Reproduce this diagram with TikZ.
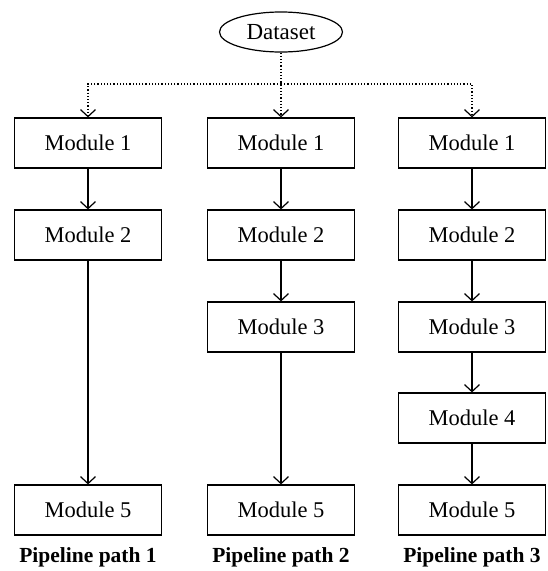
\documentclass[tikz,border=0pt]{standalone}
\usepackage{fontspec}
\setmainfont{Liberation Serif}
\usetikzlibrary{arrows.meta,shapes.geometric}
\begin{document}
\begin{tikzpicture}[x=1pt,y=1pt,
  modbox/.style={draw,line width=1.2pt,minimum width=147pt,minimum height=50pt,inner sep=0pt,font=\fontsize{22.5}{24}\selectfont},
  pathlabel/.style={font=\bfseries\fontsize{21.5}{24}\selectfont,inner sep=0pt},
  flow/.style={line width=1.2pt,-{Straight Barb[length=7pt,width=15pt,line width=1.2pt]}},
  dflow/.style={line width=1.2pt,dotted,-{Straight Barb[length=7pt,width=15pt,line width=1.2pt]}}]
\useasboundingbox (0,0) rectangle (547,-571);
\node[draw,ellipse,line width=1.2pt,minimum width=123pt,minimum height=40pt,inner sep=0pt,font=\fontsize{23}{24}\selectfont] (ds) at (281,-32) {Dataset};
\coordinate (j) at (281,-84);
% column 1
\node[modbox] (a1) at (88,-143) {Module 1};
\node[modbox] (a2) at (88,-235) {Module 2};
\node[modbox] (a5) at (88,-510) {Module 5};
% column 2
\node[modbox] (b1) at (281,-143) {Module 1};
\node[modbox] (b2) at (281,-235) {Module 2};
\node[modbox] (b3) at (281,-327) {Module 3};
\node[modbox] (b5) at (281,-510) {Module 5};
% column 3
\node[modbox] (c1) at (472,-143) {Module 1};
\node[modbox] (c2) at (472,-235) {Module 2};
\node[modbox] (c3) at (472,-327) {Module 3};
\node[modbox] (c4) at (472,-418) {Module 4};
\node[modbox] (c5) at (472,-510) {Module 5};
% labels
\node[pathlabel] (l1) at (88,-557) {Pipeline path 1};
\node[pathlabel] (l2) at (281,-557) {Pipeline path 2};
\node[pathlabel] (l3) at (472,-557) {Pipeline path 3};
% dotted
\draw[dflow] (ds.south) -- (b1.north);
\draw[dflow] (j) -| (a1.north);
\draw[dflow] (j) -| (c1.north);
% solid
\draw[flow] (a1) -- (a2);
\draw[flow] (a2) -- (a5);
\draw[flow] (b1) -- (b2);
\draw[flow] (b2) -- (b3);
\draw[flow] (b3) -- (b5);
\draw[flow] (c1) -- (c2);
\draw[flow] (c2) -- (c3);
\draw[flow] (c3) -- (c4);
\draw[flow] (c4) -- (c5);
\end{tikzpicture}
\end{document}
